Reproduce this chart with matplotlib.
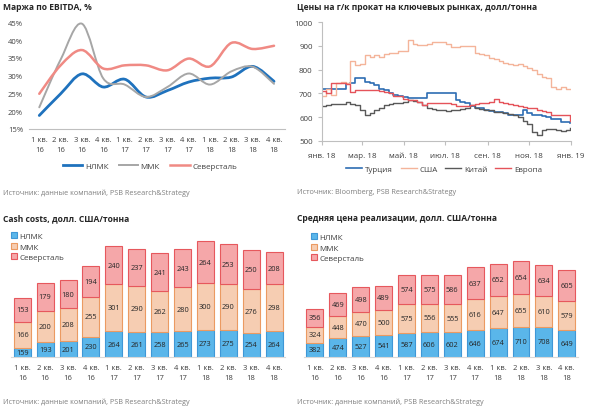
import numpy as np
import pandas as pd
import matplotlib
matplotlib.use("Agg")
import matplotlib.pyplot as plt
from matplotlib.path import Path
from matplotlib.patches import PathPatch
from matplotlib.lines import Line2D

plt.rcParams['font.family'] = ['Open Sans', 'DejaVu Sans']

# ---------------- data ----------------
quarters = ["1 кв.\n16", "2 кв.\n16", "3 кв.\n16", "4 кв.\n16",
            "1 кв.\n17", "2 кв.\n17", "3 кв.\n17", "4 кв.\n17",
            "1 кв.\n18", "2 кв.\n18", "3 кв.\n18", "4 кв.\n18"]
companies = ["НЛМК", "ММК", "Северсталь"]

ebitda_nlmk = [18.8, 24.9, 30.5, 26.8, 29.0, 24.0, 25.8, 28.2, 29.3, 29.6, 32.6, 28.4]
ebitda_mmk = [21.1, 34.5, 44.6, 29.2, 27.5, 24.0, 26.8, 30.6, 27.5, 31.2, 32.5, 27.7]
ebitda_sev = [24.9, 32.9, 37.2, 32.0, 32.9, 32.9, 31.5, 34.8, 32.6, 39.2, 37.5, 38.4]
ebitda_ticks = [15, 20, 25, 30, 35, 40, 45]

price_start = "2018-01-01"
price_turkey = [720, 720, 720, 720, 720, 740, 745, 765, 765, 750, 745, 735, 720, 715, 700, 695,
                690, 685, 680, 680, 680, 680, 700, 700, 700, 700, 700, 700, 670, 665, 660, 645,
                640, 640, 630, 625, 620, 620, 615, 610, 610, 610, 630, 615, 610, 610, 605, 600,
                590, 590, 580, 578, 575]
price_usa = [690, 720, 695, 745, 750, 745, 835, 820, 825, 860, 855, 860, 855, 865, 870, 870,
             880, 880, 925, 910, 905, 905, 910, 915, 915, 918, 910, 895, 895, 900, 900, 900,
             870, 865, 860, 850, 845, 835, 830, 825, 820, 822, 815, 805, 800, 780, 770, 765,
             725, 720, 725, 720, 718]
price_china = [645, 650, 655, 655, 655, 665, 655, 650, 630, 610, 615, 630, 640, 650, 655, 658,
               660, 665, 670, 668, 665, 650, 640, 632, 630, 628, 625, 628, 630, 635, 640, 650,
               640, 632, 630, 628, 622, 620, 618, 612, 608, 600, 585, 570, 535, 525, 545, 550,
               548, 545, 540, 545, 555]
price_europe = [710, 700, 745, 745, 745, 740, 705, 715, 715, 715, 715, 712, 708, 705, 700, 690,
                688, 675, 672, 670, 665, 650, 660, 660, 660, 658, 660, 655, 648, 645, 645, 652,
                655, 658, 660, 665, 675, 662, 660, 655, 650, 648, 642, 640, 638, 628, 625, 620,
                610, 608, 608, 610, 585]
price_tick_dates = ["2018-01-01", "2018-03-01", "2018-05-01", "2018-07-01",
                    "2018-09-01", "2018-11-01", "2019-01-01"]
price_tick_labels = ["янв. 18", "мар. 18", "май. 18", "июл. 18", "сен. 18", "ноя. 18", "янв. 19"]

cash_nlmk = [159, 193, 201, 230, 264, 261, 258, 265, 273, 275, 254, 264]
cash_mmk = [166, 200, 208, 255, 301, 290, 262, 280, 300, 290, 276, 298]
cash_sev = [153, 179, 180, 194, 240, 237, 241, 243, 264, 253, 250, 208]

real_nlmk = [382, 474, 527, 541, 587, 606, 602, 646, 674, 710, 708, 649]
real_mmk = [324, 448, 470, 500, 575, 556, 555, 616, 647, 655, 610, 579]
real_sev = [356, 469, 498, 489, 574, 575, 586, 637, 652, 654, 634, 605]

# ---------------- styles ----------------
W, H = 590, 410
fig = plt.figure(figsize=(W / 100, H / 100), dpi=100)
TXT = "#404040"
SRC = "#7f7f7f"
AXC = "#bfbfbf"

def fx(px):
    return px / W

def fy(py):
    return 1 - py / H

def smooth_path(xs, ys):
    xs = np.asarray(xs, float)
    ys = np.asarray(ys, float)
    pts = np.column_stack([xs, ys])
    n = len(pts)
    verts = [pts[0]]
    codes = [Path.MOVETO]
    for i in range(n - 1):
        p0 = pts[i - 1] if i > 0 else pts[i]
        p1 = pts[i]
        p2 = pts[i + 1]
        p3 = pts[i + 2] if i + 2 < n else pts[i + 1]
        c1 = p1 + (p2 - p0) / 6.0
        c2 = p2 - (p3 - p1) / 6.0
        verts += [c1, c2, p2]
        codes += [Path.CURVE4] * 3
    return Path(verts, codes)

def title(px, py, s):
    fig.text(fx(px), fy(py), s, fontsize=6.1, fontweight='bold', color="#262626",
             ha='left', va='center')

def source(px, py, s):
    fig.text(fx(px), fy(py), s, fontsize=5.2, color=SRC, ha='left', va='center')

# ---------------- panel 1: EBITDA margin ----------------
title(3, 8, "Маржа по EBITDA, %")
ax1 = fig.add_axes([fx(28.6), fy(130), fx(284.7) - fx(28.6), fy(23.3) - fy(130)])
xq = np.arange(len(quarters))
series1 = [(ebitda_nlmk, "#1f72bd", 2.0, "НЛМК"),
           (ebitda_mmk, "#a6a6a6", 1.4, "ММК"),
           (ebitda_sev, "#f08a84", 1.8, "Северсталь")]
handles1 = []
for vals, col, lw, lab in series1:
    ax1.add_patch(PathPatch(smooth_path(xq, vals), fill=False, edgecolor=col, lw=lw,
                            capstyle='round', joinstyle='round'))
    handles1.append(Line2D([], [], color=col, lw=lw, label=lab))
ax1.set_xlim(-0.5, len(quarters) - 0.5)
ax1.set_ylim(15, 45)
ax1.set_yticks(ebitda_ticks)
ax1.set_yticklabels([f"{t}%" for t in ebitda_ticks])
ax1.set_xticks(xq)
ax1.set_xticklabels(quarters, linespacing=1.6)
for s in ['top', 'right', 'left']:
    ax1.spines[s].set_visible(False)
ax1.spines['bottom'].set_color(AXC)
ax1.tick_params(axis='both', length=0, labelsize=5.5, colors=TXT, pad=4)
ax1.tick_params(axis='x', pad=5)
ax1.legend(handles=handles1, loc='center', bbox_to_anchor=(fx(150), fy(167)),
           bbox_transform=fig.transFigure, ncol=3, frameon=False, fontsize=5.8,
           handlelength=2.4, columnspacing=1.3, handletextpad=0.3, labelcolor=TXT)
source(3, 193, "Источник: данные компаний, PSB Research&Strategy")

# ---------------- panel 2: HRC prices ----------------
title(297, 8, "Цены на г/к прокат на ключевых рынках, долл/тонна")
ax2 = fig.add_axes([fx(321.7), fy(141.7), fx(571) - fx(321.7), fy(23.3) - fy(141.7)])
dates = pd.date_range(price_start, periods=len(price_usa), freq="7D")
series2 = [(price_turkey, "#2e6db3", 1.2, "Турция"),
           (price_usa, "#f4b49a", 1.0, "США"),
           (price_china, "#595959", 1.0, "Китай"),
           (price_europe, "#e5535a", 1.0, "Европа")]
for vals, col, lw, lab in series2:
    ax2.plot(dates, vals, drawstyle='steps-post', color=col, lw=lw, label=lab)
ax2.set_xlim(pd.Timestamp(price_tick_dates[0]), pd.Timestamp(price_tick_dates[-1]))
ax2.set_ylim(500, 1000)
ax2.set_yticks([500, 600, 700, 800, 900, 1000])
ax2.set_xticks([pd.Timestamp(d) for d in price_tick_dates])
ax2.set_xticklabels(price_tick_labels)
for s in ['top', 'right']:
    ax2.spines[s].set_visible(False)
for s in ['left', 'bottom']:
    ax2.spines[s].set_color(AXC)
ax2.tick_params(axis='both', length=3, color=AXC, labelsize=5.8, colors=TXT)
ax2.tick_params(axis='x', pad=5)
ax2.legend(loc='center', bbox_to_anchor=(fx(444), fy(170)), bbox_transform=fig.transFigure,
           ncol=4, frameon=False, fontsize=5.8, handlelength=2.0, columnspacing=1.0,
           handletextpad=0.3, labelcolor=TXT)
source(297, 193, "Источник: Bloomberg, PSB Research&Strategy")

# ---------------- bar panels ----------------
fills = ["#5ab6ea", "#f6cdb2", "#f5a7a9"]
edges = ["#3f97d6", "#eb9a62", "#e6585d"]

def stacked(ax, s1, s2, s3, ymin, ymax):
    xs = np.arange(len(quarters))
    bottom = np.zeros(len(xs))
    for vals, fc, ec, lab in zip([s1, s2, s3], fills, edges, companies):
        vals = np.asarray(vals, float)
        ax.bar(xs, vals, bottom=bottom, width=0.74, color=fc, edgecolor=ec, lw=0.8, label=lab)
        lo = np.maximum(bottom, ymin)
        hi = bottom + vals
        for x, a, b, v in zip(xs, lo, hi, vals):
            ax.text(x, (a + b) / 2, f"{int(v)}", ha='center', va='center', fontsize=5.3,
                    color="#262626")
        bottom = bottom + vals
    ax.set_xlim(-0.5, len(quarters) - 0.5)
    ax.set_ylim(ymin, ymax)
    ax.set_yticks([])
    ax.set_xticks(xs)
    ax.set_xticklabels(quarters, linespacing=1.6)
    for s in ['top', 'right', 'left']:
        ax.spines[s].set_visible(False)
    ax.spines['bottom'].set_color("#d9d9d9")
    ax.tick_params(axis='x', length=0, labelsize=5.5, colors=TXT, pad=5)

title(3, 219, "Cash costs, долл. США/тонна")
ax3 = fig.add_axes([fx(10.85), fy(358), fx(285.5) - fx(10.85), fy(232.4) - fy(358)])
stacked(ax3, cash_nlmk, cash_mmk, cash_sev, 100, 900)
ax3.legend(loc='upper left', bbox_to_anchor=(fx(8), fy(230)), bbox_transform=fig.transFigure,
           frameon=False, fontsize=5.8, handlelength=0.75, handleheight=0.75,
           handletextpad=0.3, labelspacing=0.35, labelcolor=TXT, borderaxespad=0)
source(3, 402, "Источник: данные компаний, PSB Research&Strategy")

title(297, 219, "Средняя цена реализации, долл. США/тонна")
ax4 = fig.add_axes([fx(303.5), fy(358), fx(578.2) - fx(303.5), fy(238.2) - fy(358)])
stacked(ax4, real_nlmk, real_mmk, real_sev, 100, 2500)
ax4.legend(loc='upper left', bbox_to_anchor=(fx(308), fy(231)), bbox_transform=fig.transFigure,
           frameon=False, fontsize=5.8, handlelength=0.75, handleheight=0.75,
           handletextpad=0.3, labelspacing=0.35, labelcolor=TXT, borderaxespad=0)
source(297, 402, "Источник: данные компаний, PSB Research&Strategy")

fig.savefig("out.png", dpi=100)
